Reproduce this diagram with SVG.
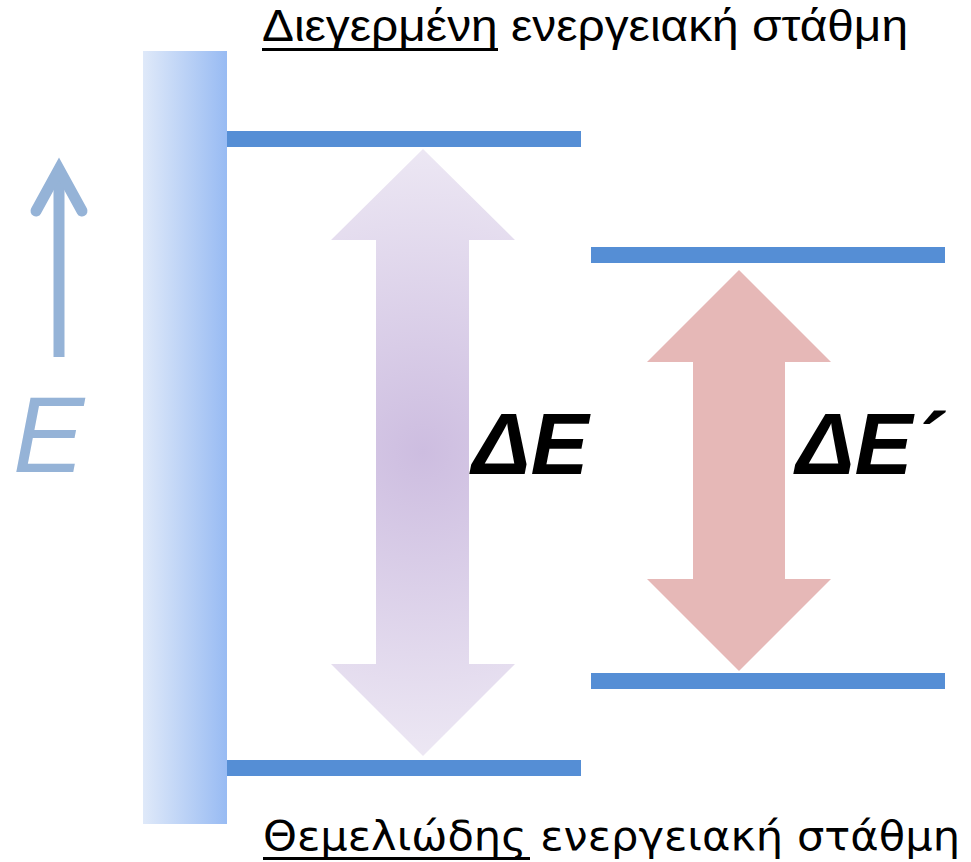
<svg xmlns="http://www.w3.org/2000/svg" width="971" height="862" viewBox="0 0 971 862">
  <defs>
    <linearGradient id="barGrad" x1="0" y1="0" x2="1" y2="0">
      <stop offset="0" stop-color="#dfe9f9"/>
      <stop offset="1" stop-color="#98bbf3"/>
    </linearGradient>
    <radialGradient id="purpleGrad" gradientUnits="userSpaceOnUse" cx="423" cy="452" r="310">
      <stop offset="0" stop-color="#cdbde0"/>
      <stop offset="1" stop-color="#ede8f4"/>
    </radialGradient>
    <style>
      .level { fill: #558ed5; }
      .label { font-family: "Liberation Sans", Arial, sans-serif; fill: #000000; }
      .delta { font-family: "Liberation Sans", Arial, sans-serif; font-weight: bold; font-style: italic; font-size: 87px; fill: #000000; }
      .axis { stroke: #95b3d7; fill: none; }
    </style>
  </defs>

  <rect width="971" height="862" fill="#ffffff"/>

  <g id="energy-bar">
    <rect x="143" y="51" width="84" height="773" fill="url(#barGrad)"/>
  </g>

  <g id="energy-axis">
    <line class="axis" x1="59" y1="357" x2="59" y2="172" stroke-width="11"/>
    <polyline class="axis" points="36,211 59,169 82,211" stroke-width="11" stroke-linecap="round" stroke-linejoin="miter"/>
    <text x="13" y="472" font-family="'Liberation Sans', Arial, sans-serif" font-style="italic" font-size="107" fill="#95b3d7">E</text>
  </g>

  <g id="level-excited-1"><rect class="level" x="227" y="131" width="354" height="16"/></g>
  <g id="level-ground-1"><rect class="level" x="227" y="760" width="354" height="16"/></g>
  <g id="level-excited-2"><rect class="level" x="591" y="247" width="354" height="16"/></g>
  <g id="level-ground-2"><rect class="level" x="591" y="673" width="354" height="16"/></g>

  <g id="connectors">
    <polygon id="arrow-dE" fill="url(#purpleGrad)" points="423,149 515,240 469,240 469,664 515,664 423,756 331,664 376,664 376,240 331,240"/>
    <polygon id="arrow-dE2" fill="#e6b8b7" points="739,270 831,362 785,362 785,579 831,579 739,671 647,579 693,579 693,362 647,362"/>
  </g>

  <g id="label-excited">
    <text class="label" x="262" y="41" font-size="44" textLength="646" lengthAdjust="spacingAndGlyphs">Διεγερμένη ενεργειακή στάθμη</text>
    <rect x="262" y="48" width="236" height="3" fill="#000000"/>
  </g>

  <g id="label-ground">
    <text x="263" y="850" font-family="'DejaVu Sans', Verdana, sans-serif" font-size="40" fill="#000000" textLength="697" lengthAdjust="spacingAndGlyphs">Θεμελιώδης ενεργειακή στάθμη</text>
    <rect x="263" y="857" width="267" height="3" fill="#000000"/>
  </g>

  <g id="label-dE">
    <text class="delta" x="472" y="474">ΔE</text>
  </g>
  <g id="label-dE2">
    <text class="delta" x="796" y="474">ΔE´</text>
  </g>
</svg>
